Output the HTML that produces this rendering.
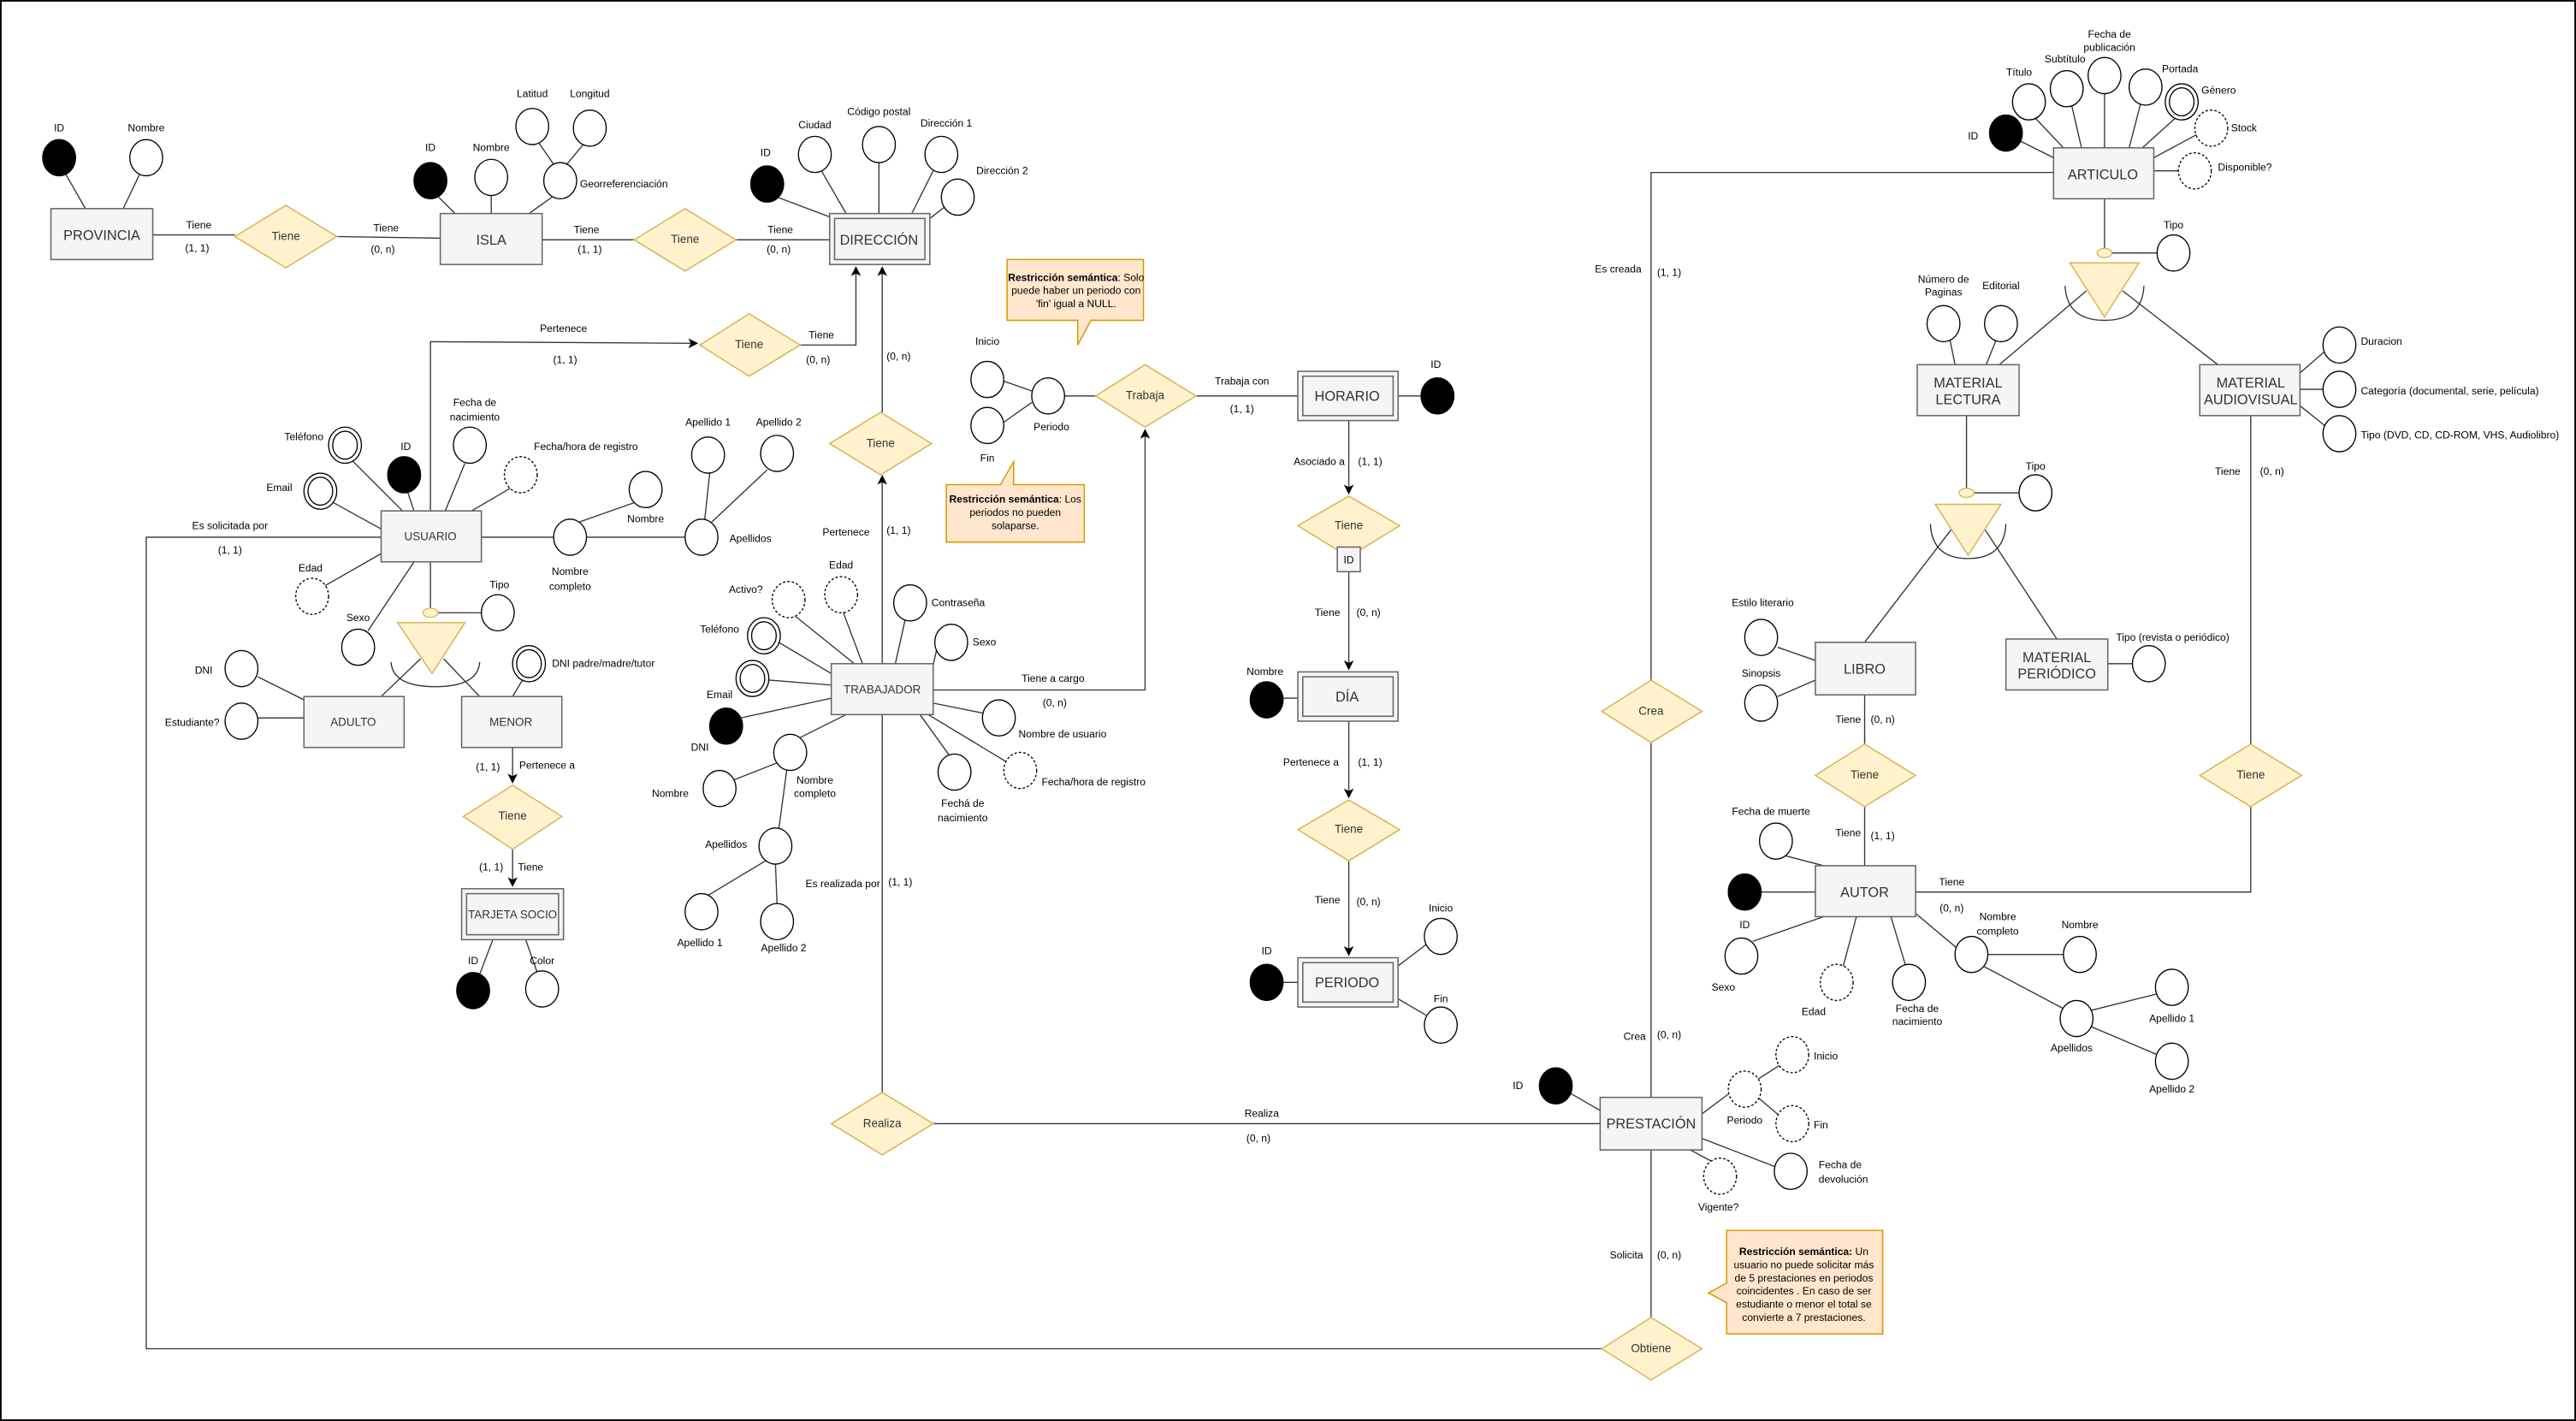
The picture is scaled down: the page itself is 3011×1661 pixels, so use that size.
<!DOCTYPE html>
<html><head><meta charset="utf-8"><style>
html,body{margin:0;padding:0;background:#fff}
svg{display:block}
text{font-family:"Liberation Sans",sans-serif;fill:#000}
.l{font-size:6.3px;text-anchor:middle}
.ls{font-size:6.3px;text-anchor:start}
.en{font-size:8.5px;text-anchor:middle;fill:#333}
.ens{font-size:7px;text-anchor:middle;fill:#333}
.rl{font-size:7px;text-anchor:middle;fill:#333}
.e{fill:#f5f5f5;stroke:#666;stroke-width:0.8}
.r{fill:#fff2cc;stroke:#d6b656;stroke-width:0.8}
.a{fill:#fff;stroke:#000;stroke-width:0.7}
.k{fill:#000;stroke:#000;stroke-width:0.7}
.d{fill:#fff;stroke:#000;stroke-width:0.7;stroke-dasharray:1.5,1.2}
.ln{stroke:#333;stroke-width:0.7;fill:none}
.nt{fill:#ffe6cc;stroke:#d79b00;stroke-width:0.8}
.tri{fill:#fff2cc;stroke:#d6b656;stroke-width:0.8}
</style></head><body>
<svg width="3011" height="1661" viewBox="0 0 1568 865" preserveAspectRatio="none" xmlns="http://www.w3.org/2000/svg">
<defs><marker id="ar" markerWidth="6" markerHeight="6" refX="5" refY="3" orient="auto" markerUnits="userSpaceOnUse"><path d="M0,0 L6,3 L0,6 L1.5,3 z" fill="#000"/></marker></defs>
<rect x="0.5" y="0.5" width="1567" height="864" fill="none" stroke="#000" stroke-width="1"/>

<g class="ln">
<line x1="93" y1="143" x2="143" y2="143"/><line x1="205" y1="144" x2="268" y2="145"/>
<line x1="40" y1="106" x2="52" y2="127"/><line x1="85" y1="106" x2="75" y2="127"/>
<line x1="330" y1="146" x2="386" y2="146"/><line x1="448" y1="146" x2="505" y2="146"/>
<line x1="267" y1="120" x2="277" y2="130"/><line x1="299" y1="119" x2="299" y2="130"/><line x1="336" y1="120" x2="322" y2="130"/>
<line x1="328" y1="87" x2="337" y2="100"/><line x1="355" y1="88" x2="345" y2="100"/>
<line x1="473" y1="120" x2="505" y2="132"/><line x1="500" y1="104" x2="515" y2="130"/><line x1="535" y1="99" x2="535" y2="130"/><line x1="568" y1="104" x2="555" y2="130"/><line x1="575" y1="126" x2="566" y2="133"/>
<polyline points="262,311 262,208 424,209" marker-end="url(#ar)"/>
<polyline points="487,210 521,210 521,163" marker-end="url(#ar)"/>
<line x1="537" y1="251" x2="537" y2="163" marker-end="url(#ar)"/>
<line x1="537" y1="404" x2="537" y2="290" marker-end="url(#ar)"/>
<line x1="214" y1="280" x2="245" y2="311"/><line x1="203" y1="306" x2="232" y2="322"/><line x1="248" y1="299" x2="252" y2="311"/>
<line x1="283" y1="282" x2="271" y2="311"/><line x1="311" y1="297" x2="287" y2="311"/>
<line x1="293" y1="327" x2="337" y2="327"/><line x1="357" y1="327" x2="417" y2="327"/>
<line x1="352" y1="318" x2="386" y2="306"/><line x1="429" y1="316" x2="432" y2="288"/><line x1="433" y1="318" x2="467" y2="286"/>
<line x1="197" y1="357" x2="232" y2="337"/><line x1="224" y1="384" x2="252" y2="342"/>
<line x1="262" y1="342" x2="262" y2="370"/><line x1="266" y1="373" x2="293" y2="373"/>
<line x1="256" y1="401" x2="232" y2="424"/><line x1="270" y1="401" x2="292" y2="424"/>
<path d="M238,403 Q239,418 265,418 Q291,418 292,403"/>
<line x1="157" y1="412" x2="185" y2="426"/><line x1="157" y1="437" x2="185" y2="437"/><line x1="318" y1="414" x2="312" y2="424"/>
<line x1="312" y1="455" x2="312" y2="476" marker-end="url(#ar)"/>
<line x1="312" y1="517" x2="312" y2="539" marker-end="url(#ar)"/>
<line x1="292" y1="593" x2="300" y2="572"/><line x1="327" y1="592" x2="320" y2="572"/>
<polyline points="232,327 89,327 89,821 975,821"/>
<line x1="537" y1="435" x2="537" y2="665"/><line x1="567" y1="684" x2="974" y2="684"/>
<polyline points="568,420 697,420 697,262" marker-end="url(#ar)"/>
<line x1="484" y1="375" x2="520" y2="404"/><line x1="513" y1="372" x2="525" y2="404"/><line x1="551" y1="377" x2="545" y2="404"/>
<line x1="474" y1="391" x2="506" y2="410"/><line x1="570" y1="396" x2="568" y2="405"/><line x1="468" y1="414" x2="506" y2="417"/>
<line x1="451" y1="437" x2="506" y2="425"/><line x1="598" y1="434" x2="568" y2="428"/><line x1="613" y1="464" x2="565" y2="435"/>
<line x1="578" y1="460" x2="560" y2="435"/><line x1="487" y1="449" x2="515" y2="435"/>
<line x1="446" y1="475" x2="474" y2="464"/><line x1="474" y1="505" x2="479" y2="468"/>
<line x1="431" y1="545" x2="466" y2="524"/><line x1="473" y1="551" x2="472" y2="525"/>
<line x1="611" y1="232" x2="628" y2="238"/><line x1="611" y1="257" x2="628" y2="245"/>
<line x1="648" y1="241" x2="667" y2="241"/><line x1="728" y1="241" x2="790" y2="241"/><line x1="851" y1="241" x2="865" y2="241"/>
<line x1="821" y1="256" x2="821" y2="300" marker-end="url(#ar)"/>
<line x1="821" y1="348" x2="821" y2="407" marker-end="url(#ar)"/>
<line x1="781" y1="425" x2="790" y2="425"/>
<line x1="821" y1="439" x2="821" y2="485" marker-end="url(#ar)"/>
<line x1="821" y1="524" x2="821" y2="581" marker-end="url(#ar)"/>
<line x1="781" y1="598" x2="790" y2="598"/><line x1="851" y1="588" x2="868" y2="575"/><line x1="851" y1="608" x2="868" y2="618"/>
<polyline points="1250,105 1005,105 1005,414"/><line x1="1005" y1="452" x2="1005" y2="668"/>
<line x1="1005" y1="700" x2="1005" y2="802"/>
<line x1="1230" y1="86" x2="1250" y2="96"/><line x1="1239" y1="72" x2="1256" y2="90"/><line x1="1261" y1="64" x2="1267" y2="90"/>
<line x1="1281" y1="56" x2="1281" y2="90"/><line x1="1303" y1="63" x2="1296" y2="90"/><line x1="1324" y1="72" x2="1304" y2="90"/>
<line x1="1337" y1="82" x2="1311" y2="96"/><line x1="1311" y1="104" x2="1326" y2="104"/>
<line x1="1281" y1="121" x2="1281" y2="151"/><line x1="1285" y1="154" x2="1313" y2="154"/>
<path d="M1257,174 Q1258,195 1281,195 Q1304,195 1305,174"/>
<line x1="1270" y1="177" x2="1217" y2="222"/><line x1="1292" y1="177" x2="1350" y2="222"/>
<line x1="1187" y1="207" x2="1190" y2="222"/><line x1="1215" y1="207" x2="1209" y2="222"/>
<line x1="1400" y1="227" x2="1415" y2="214"/><line x1="1400" y1="237" x2="1414" y2="237"/><line x1="1400" y1="247" x2="1415" y2="259"/>
<line x1="1197" y1="253" x2="1197" y2="297"/><line x1="1201" y1="300" x2="1229" y2="300"/>
<path d="M1175,319 Q1176,340 1198,340 Q1220,340 1221,319"/>
<line x1="1188" y1="322" x2="1135" y2="391"/><line x1="1208" y1="322" x2="1252" y2="389"/>
<line x1="1082" y1="394" x2="1105" y2="402"/><line x1="1082" y1="424" x2="1105" y2="414"/><line x1="1283" y1="404" x2="1298" y2="404"/>
<line x1="1135" y1="423" x2="1135" y2="453"/><line x1="1135" y1="491" x2="1135" y2="527"/>
<line x1="1370" y1="253" x2="1370" y2="453"/><polyline points="1370,491 1370,543 1166,543"/>
<line x1="1087" y1="521" x2="1110" y2="527"/><line x1="1072" y1="543" x2="1105" y2="543"/><line x1="1067" y1="573" x2="1110" y2="558"/>
<line x1="1122" y1="588" x2="1130" y2="558"/><line x1="1160" y1="588" x2="1151" y2="558"/><line x1="1191" y1="577" x2="1166" y2="556"/>
<line x1="1210" y1="581" x2="1256" y2="581"/><line x1="1207" y1="588" x2="1256" y2="614"/>
<line x1="1273" y1="615" x2="1313" y2="605"/><line x1="1273" y1="625" x2="1313" y2="642"/>
<line x1="955" y1="665" x2="974" y2="676"/><line x1="1036" y1="678" x2="1052" y2="666"/>
<line x1="1070" y1="657" x2="1084" y2="648"/><line x1="1070" y1="668" x2="1083" y2="679"/>
<line x1="1036" y1="693" x2="1080" y2="710"/><line x1="1029" y1="700" x2="1042" y2="707"/>
</g>

<rect class="e" x="31" y="127" width="62" height="31"/><text class="en" x="62" y="146">PROVINCIA</text>
<rect class="e" x="268" y="130" width="62" height="31"/><text class="en" x="299" y="149">ISLA</text>
<rect class="e" x="505" y="130" width="61" height="31"/><rect class="e" x="508" y="133" width="55" height="25"/><text class="en" x="535" y="149">DIRECCIÓN</text>
<rect class="e" x="232" y="311" width="61" height="31"/><text class="ens" x="262" y="329">USUARIO</text>
<rect class="e" x="185" y="424" width="61" height="31"/><text class="ens" x="215" y="442">ADULTO</text>
<rect class="e" x="281" y="424" width="61" height="31"/><text class="ens" x="311" y="442">MENOR</text>
<rect class="e" x="281" y="541" width="62" height="31"/><rect class="e" x="284" y="544" width="56" height="25"/><text class="ens" x="312" y="559">TARJETA SOCIO</text>
<rect class="e" x="506" y="404" width="62" height="31"/><text class="ens" x="537" y="422">TRABAJADOR</text>
<rect class="e" x="790" y="226" width="61" height="30"/><rect class="e" x="793" y="229" width="55" height="24"/><text class="en" x="820" y="244">HORARIO</text>
<rect class="e" x="790" y="409" width="61" height="30"/><rect class="e" x="793" y="412" width="55" height="24"/><text class="en" x="820" y="427">DÍA</text>
<rect class="e" x="790" y="583" width="61" height="30"/><rect class="e" x="793" y="586" width="55" height="24"/><text class="en" x="820" y="601">PERIODO</text>
<rect class="e" x="1250" y="90" width="61" height="31"/><text class="en" x="1280" y="109">ARTICULO</text>
<rect class="e" x="1167" y="222" width="62" height="31"/><text class="en" x="1198" y="236">MATERIAL</text><text class="en" x="1198" y="246">LECTURA</text>
<rect class="e" x="1339" y="222" width="61" height="31"/><text class="en" x="1370" y="236">MATERIAL</text><text class="en" x="1370" y="246">AUDIOVISUAL</text>
<rect class="e" x="1105" y="391" width="61" height="32"/><text class="en" x="1135" y="410">LIBRO</text>
<rect class="e" x="1221" y="389" width="62" height="31"/><text class="en" x="1252" y="403">MATERIAL</text><text class="en" x="1252" y="413">PERIÓDICO</text>
<rect class="e" x="1105" y="527" width="61" height="31"/><text class="en" x="1135" y="546">AUTOR</text>
<rect class="e" x="974" y="668" width="62" height="32"/><text class="en" x="1005" y="687">PRESTACIÓN</text>

<polygon class="r" points="143,144 174,125 205,144 174,163"/><text class="rl" x="174" y="146">Tiene</text>
<polygon class="r" points="386,146 417,127 448,146 417,165"/><text class="rl" x="417" y="148">Tiene</text>
<polygon class="r" points="426,210 456,191 487,210 456,229"/><text class="rl" x="456" y="212">Tiene</text>
<polygon class="r" points="505,270 536,251 567,270 536,289"/><text class="rl" x="536" y="272">Tiene</text>
<polygon class="r" points="282,497 312,478 342,497 312,517"/><text class="rl" x="312" y="499">Tiene</text>
<polygon class="r" points="667,241 697,222 728,241 697,260"/><text class="rl" x="697" y="243">Trabaja</text>
<polygon class="r" points="790,320 821,302 852,320 821,339"/><text class="rl" x="821" y="322">Tiene</text>
<rect class="e" x="814" y="333" width="14" height="15"/><text class="l" x="821" y="343">ID</text>
<polygon class="r" points="790,505 821,487 852,505 821,524"/><text class="rl" x="821" y="507">Tiene</text>
<polygon class="r" points="506,684 537,665 568,684 537,703"/><text class="rl" x="537" y="686">Realiza</text>
<polygon class="r" points="975,433 1005,414 1036,433 1005,452"/><text class="rl" x="1005" y="435">Crea</text>
<polygon class="r" points="975,821 1005,802 1036,821 1005,840"/><text class="rl" x="1005" y="823">Obtiene</text>
<polygon class="r" points="1105,472 1135,453 1166,472 1135,491"/><text class="rl" x="1135" y="474">Tiene</text>
<polygon class="r" points="1339,472 1370,453 1401,472 1370,491"/><text class="rl" x="1370" y="474">Tiene</text>

<polygon class="tri" points="242,379 283,379 263,410"/><ellipse cx="262" cy="373" rx="4.5" ry="2.8" fill="#fff2cc" stroke="#d6b656" stroke-width="0.7"/>
<polygon class="tri" points="1260,160 1302,160 1281,193"/><ellipse cx="1281" cy="154" rx="4.5" ry="2.8" fill="#fff2cc" stroke="#d6b656" stroke-width="0.7"/>
<polygon class="tri" points="1178,307 1218,307 1198,338"/><ellipse cx="1197" cy="300" rx="4.5" ry="2.8" fill="#fff2cc" stroke="#d6b656" stroke-width="0.7"/>

<ellipse class="k" cx="36" cy="96" rx="10" ry="11"/><text class="l" x="36" y="80">ID</text>
<ellipse class="a" cx="89" cy="96" rx="10" ry="11"/><text class="l" x="89" y="80">Nombre</text>
<ellipse class="k" cx="262" cy="110" rx="10" ry="11"/><text class="l" x="262" y="92">ID</text>
<ellipse class="a" cx="299" cy="108" rx="10" ry="11"/><text class="l" x="299" y="92">Nombre</text>
<ellipse class="a" cx="341" cy="110" rx="10" ry="11"/><text class="ls" x="353" y="114">Georreferenciación</text>
<ellipse class="a" cx="324" cy="77" rx="10" ry="11"/><text class="l" x="324" y="59">Latitud</text>
<ellipse class="a" cx="359" cy="78" rx="10" ry="11"/><text class="l" x="359" y="59">Longitud</text>
<ellipse class="k" cx="467" cy="112" rx="10" ry="11"/><text class="l" x="466" y="95">ID</text>
<ellipse class="a" cx="496" cy="94" rx="10" ry="11"/><text class="l" x="496" y="78">Ciudad</text>
<ellipse class="a" cx="535" cy="88" rx="10" ry="11"/><text class="l" x="535" y="70">Código postal</text>
<ellipse class="a" cx="573" cy="94" rx="10" ry="11"/><text class="l" x="576" y="77">Dirección 1</text>
<ellipse class="a" cx="583" cy="120" rx="10" ry="11"/><text class="l" x="610" y="106">Dirección 2</text>
<ellipse class="a" cx="210" cy="271" rx="10" ry="11"/><ellipse class="a" cx="210" cy="271" rx="7.5" ry="8.5"/><text class="l" x="185" y="268">Teléfono</text>
<ellipse class="a" cx="195" cy="299" rx="10" ry="11"/><ellipse class="a" cx="195" cy="299" rx="7.5" ry="8.5"/><text class="l" x="170" y="299">Email</text>
<ellipse class="k" cx="246" cy="289" rx="10" ry="11"/><text class="l" x="247" y="274">ID</text>
<ellipse class="a" cx="286" cy="271" rx="10" ry="11"/><text class="l" x="289" y="247">Fecha de</text><text class="l" x="289" y="256">nacimiento</text>
<ellipse class="d" cx="317" cy="289" rx="10" ry="11"/><text class="ls" x="325" y="274">Fecha/hora de registro</text>
<ellipse class="a" cx="347" cy="327" rx="10" ry="11"/><text class="l" x="347" y="350">Nombre</text><text class="l" x="347" y="359">completo</text>
<ellipse class="a" cx="393" cy="298" rx="10" ry="11"/><text class="l" x="393" y="318">Nombre</text>
<ellipse class="a" cx="427" cy="327" rx="10" ry="11"/><text class="ls" x="444" y="330">Apellidos</text>
<ellipse class="a" cx="431" cy="277" rx="10" ry="11"/><text class="l" x="431" y="259">Apellido 1</text>
<ellipse class="a" cx="473" cy="276" rx="10" ry="11"/><text class="l" x="474" y="259">Apellido 2</text>
<ellipse class="d" cx="190" cy="363" rx="10" ry="11"/><text class="l" x="189" y="348">Edad</text>
<ellipse class="a" cx="218" cy="394" rx="10" ry="11"/><text class="l" x="218" y="378">Sexo</text>
<ellipse class="a" cx="303" cy="373" rx="10" ry="11"/><text class="l" x="304" y="358">Tipo</text>
<ellipse class="a" cx="147" cy="407" rx="10" ry="11"/><text class="l" x="124" y="410">DNI</text>
<ellipse class="a" cx="147" cy="439" rx="10" ry="11"/><text class="l" x="117" y="442">Estudiante?</text>
<ellipse class="a" cx="322" cy="404" rx="10" ry="11"/><ellipse class="a" cx="322" cy="404" rx="7.5" ry="8.5"/><text class="ls" x="336" y="406">DNI padre/madre/tutor</text>
<ellipse class="k" cx="288" cy="603" rx="10" ry="11"/><text class="l" x="288" y="587">ID</text>
<ellipse class="a" cx="330" cy="602" rx="10" ry="11"/><text class="l" x="330" y="587">Color</text>
<ellipse class="d" cx="480" cy="365" rx="10" ry="11"/><text class="l" x="454" y="361">Activo?</text>
<ellipse class="d" cx="512" cy="362" rx="10" ry="11"/><text class="l" x="512" y="346">Edad</text>
<ellipse class="a" cx="554" cy="367" rx="10" ry="11"/><text class="ls" x="567" y="369">Contraseña</text>
<ellipse class="a" cx="465" cy="387" rx="10" ry="11"/><ellipse class="a" cx="465" cy="387" rx="7.5" ry="8.5"/><text class="l" x="438" y="385">Teléfono</text>
<ellipse class="a" cx="579" cy="391" rx="10" ry="11"/><text class="ls" x="592" y="393">Sexo</text>
<ellipse class="a" cx="458" cy="413" rx="10" ry="11"/><ellipse class="a" cx="458" cy="413" rx="7.5" ry="8.5"/><text class="l" x="438" y="425">Email</text>
<ellipse class="k" cx="442" cy="442" rx="10" ry="11"/><text class="l" x="426" y="457">DNI</text>
<ellipse class="a" cx="608" cy="437" rx="10" ry="11"/><text class="ls" x="620" y="449">Nombre de usuario</text>
<ellipse class="d" cx="621" cy="469" rx="10" ry="11"/><text class="ls" x="634" y="478">Fecha/hora de registro</text>
<ellipse class="a" cx="581" cy="470" rx="10" ry="11"/><text class="l" x="586" y="491">Fechá de</text><text class="l" x="586" y="500">nacimiento</text>
<ellipse class="a" cx="481" cy="458" rx="10" ry="11"/><text class="l" x="496" y="477">Nombre</text><text class="l" x="496" y="485">completo</text>
<ellipse class="a" cx="438" cy="480" rx="10" ry="11"/><text class="l" x="408" y="485">Nombre</text>
<ellipse class="a" cx="472" cy="515" rx="10" ry="11"/><text class="l" x="442" y="516">Apellidos</text>
<ellipse class="a" cx="427" cy="555" rx="10" ry="11"/><text class="l" x="426" y="576">Apellido 1</text>
<ellipse class="a" cx="473" cy="561" rx="10" ry="11"/><text class="l" x="477" y="579">Apellido 2</text>
<ellipse class="a" cx="638" cy="241" rx="10" ry="11"/><text class="l" x="640" y="262">Periodo</text>
<ellipse class="a" cx="601" cy="231" rx="10" ry="11"/><text class="l" x="601" y="210">Inicio</text>
<ellipse class="a" cx="601" cy="259" rx="10" ry="11"/><text class="l" x="601" y="281">Fin</text>
<ellipse class="k" cx="875" cy="241" rx="10" ry="11"/><text class="l" x="874" y="224">ID</text>
<ellipse class="k" cx="771" cy="426" rx="10" ry="11"/><text class="l" x="770" y="411">Nombre</text>
<ellipse class="k" cx="771" cy="598" rx="10" ry="11"/><text class="l" x="771" y="581">ID</text>
<ellipse class="a" cx="877" cy="570" rx="10" ry="11"/><text class="l" x="877" y="555">Inicio</text>
<ellipse class="a" cx="877" cy="624" rx="10" ry="11"/><text class="l" x="877" y="610">Fin</text>
<ellipse class="k" cx="1221" cy="81" rx="10" ry="11"/><text class="l" x="1201" y="85">ID</text>
<ellipse class="a" cx="1235" cy="62" rx="10" ry="11"/><text class="l" x="1229" y="46">Título</text>
<ellipse class="a" cx="1258" cy="54" rx="10" ry="11"/><text class="l" x="1257" y="38">Subtítulo</text>
<ellipse class="a" cx="1281" cy="46" rx="10" ry="11"/><text class="l" x="1284" y="23">Fecha de</text><text class="l" x="1284" y="31">publicación</text>
<ellipse class="a" cx="1306" cy="53" rx="10" ry="11"/><text class="l" x="1327" y="44">Portada</text>
<ellipse class="a" cx="1328" cy="62" rx="10" ry="11"/><ellipse class="a" cx="1328" cy="62" rx="7.5" ry="8.5"/><text class="ls" x="1340" y="57">Género</text>
<ellipse class="d" cx="1346" cy="78" rx="10" ry="11"/><text class="ls" x="1358" y="80">Stock</text>
<ellipse class="d" cx="1336" cy="104" rx="10" ry="11"/><text class="ls" x="1350" y="104">Disponible?</text>
<ellipse class="a" cx="1323" cy="154" rx="10" ry="11"/><text class="l" x="1323" y="139">Tipo</text>
<ellipse class="a" cx="1183" cy="197" rx="10" ry="11"/><text class="l" x="1183" y="172">Número de</text><text class="l" x="1183" y="180">Paginas</text>
<ellipse class="a" cx="1218" cy="197" rx="10" ry="11"/><text class="l" x="1218" y="176">Editorial</text>
<ellipse class="a" cx="1424" cy="210" rx="10" ry="11"/><text class="ls" x="1437" y="210">Duracion</text>
<ellipse class="a" cx="1424" cy="237" rx="10" ry="11"/><text class="ls" x="1437" y="240">Categoría (documental, serie, película)</text>
<ellipse class="a" cx="1424" cy="264" rx="10" ry="11"/><text class="ls" x="1437" y="267">Tipo (DVD, CD, CD-ROM, VHS, Audiolibro)</text>
<ellipse class="a" cx="1239" cy="300" rx="10" ry="11"/><text class="l" x="1239" y="286">Tipo</text>
<ellipse class="a" cx="1072" cy="388" rx="10" ry="11"/><text class="l" x="1073" y="369">Estilo literario</text>
<ellipse class="a" cx="1072" cy="428" rx="10" ry="11"/><text class="l" x="1072" y="412">Sinopsis</text>
<ellipse class="a" cx="1308" cy="404" rx="10" ry="11"/><text class="ls" x="1288" y="390">Tipo (revista o periódico)</text>
<ellipse class="a" cx="1081" cy="512" rx="10" ry="11"/><text class="l" x="1078" y="496">Fecha de muerte</text>
<ellipse class="k" cx="1062" cy="543" rx="10" ry="11"/><text class="l" x="1062" y="565">ID</text>
<ellipse class="a" cx="1060" cy="582" rx="10" ry="11"/><text class="l" x="1049" y="603">Sexo</text>
<ellipse class="d" cx="1118" cy="598" rx="10" ry="11"/><text class="l" x="1104" y="618">Edad</text>
<ellipse class="a" cx="1162" cy="598" rx="10" ry="11"/><text class="l" x="1167" y="616">Fecha de</text><text class="l" x="1167" y="624">nacimiento</text>
<ellipse class="a" cx="1200" cy="581" rx="10" ry="11"/><text class="l" x="1216" y="560">Nombre</text><text class="l" x="1216" y="569">completo</text>
<ellipse class="a" cx="1266" cy="581" rx="10" ry="11"/><text class="l" x="1266" y="565">Nombre</text>
<ellipse class="a" cx="1264" cy="620" rx="10" ry="11"/><text class="l" x="1261" y="640">Apellidos</text>
<ellipse class="a" cx="1322" cy="601" rx="10" ry="11"/><text class="l" x="1322" y="622">Apellido 1</text>
<ellipse class="a" cx="1322" cy="646" rx="10" ry="11"/><text class="l" x="1322" y="665">Apellido 2</text>
<ellipse class="k" cx="947" cy="661" rx="10" ry="11"/><text class="l" x="924" y="663">ID</text>
<ellipse class="d" cx="1062" cy="663" rx="10" ry="11"/><text class="l" x="1062" y="684">Periodo</text>
<ellipse class="d" cx="1091" cy="642" rx="10" ry="11"/><text class="ls" x="1104" y="645">Inicio</text>
<ellipse class="d" cx="1091" cy="684" rx="10" ry="11"/><text class="ls" x="1104" y="687">Fin</text>
<ellipse class="a" cx="1090" cy="713" rx="10" ry="11"/><text class="ls" x="1107" y="711">Fecha de</text><text class="ls" x="1107" y="720">devolución</text>
<ellipse class="d" cx="1047" cy="716" rx="10" ry="11"/><text class="l" x="1046" y="737">Vigente?</text>

<text class="l" x="121" y="139">Tiene</text><text class="l" x="120" y="153">(1, 1)</text>
<text class="l" x="235" y="141">Tiene</text><text class="l" x="233" y="154">(0, n)</text>
<text class="l" x="357" y="142">Tiene</text><text class="l" x="359" y="154">(1, 1)</text>
<text class="l" x="475" y="142">Tiene</text><text class="l" x="474" y="154">(0, n)</text>
<text class="l" x="343" y="202">Pertenece</text><text class="l" x="344" y="221">(1, 1)</text>
<text class="l" x="500" y="206">Tiene</text><text class="l" x="498" y="221">(0, n)</text>
<text class="l" x="547" y="219">(0, n)</text>
<text class="l" x="515" y="326">Pertenece</text><text class="l" x="547" y="325">(1, 1)</text>
<text class="l" x="140" y="322">Es solicitada por</text><text class="l" x="140" y="337">(1, 1)</text>
<text class="l" x="297" y="469">(1, 1)</text><text class="l" x="333" y="468">Pertenece a</text>
<text class="l" x="299" y="530">(1, 1)</text><text class="l" x="323" y="530">Tiene</text>
<text class="l" x="756" y="234">Trabaja con</text><text class="l" x="756" y="251">(1, 1)</text>
<text class="l" x="641" y="415">Tiene a cargo</text><text class="l" x="642" y="430">(0, n)</text>
<text class="l" x="803" y="283">Asociado a</text><text class="l" x="834" y="283">(1, 1)</text>
<text class="l" x="808" y="375">Tiene</text><text class="l" x="833" y="375">(0, n)</text>
<text class="l" x="798" y="466">Pertenece a</text><text class="l" x="834" y="466">(1, 1)</text>
<text class="l" x="808" y="550">Tiene</text><text class="l" x="833" y="551">(0, n)</text>
<text class="l" x="513" y="540">Es realizada por</text><text class="l" x="548" y="539">(1, 1)</text>
<text class="l" x="768" y="680">Realiza</text><text class="l" x="766" y="695">(0, n)</text>
<text class="l" x="985" y="166">Es creada</text><text class="l" x="1016" y="168">(1, 1)</text>
<text class="l" x="995" y="633">Crea</text><text class="l" x="1016" y="632">(0, n)</text>
<text class="l" x="990" y="766">Solicita</text><text class="l" x="1016" y="766">(0, n)</text>
<text class="l" x="1125" y="440">Tiene</text><text class="l" x="1146" y="440">(0, n)</text>
<text class="l" x="1125" y="509">Tiene</text><text class="l" x="1146" y="511">(1, 1)</text>
<text class="l" x="1356" y="289">Tiene</text><text class="l" x="1383" y="289">(0, n)</text>
<text class="l" x="1188" y="539">Tiene</text><text class="l" x="1188" y="555">(0, n)</text>

<path class="nt" d="M613,158 H696 V195 H664 L656,210 L656,195 H613 Z"/>
<text class="l" x="655" y="171"><tspan font-weight="bold">Restricción semántica</tspan>: Solo</text>
<text class="l" x="655" y="179">puede haber un periodo con</text>
<text class="l" x="655" y="187">'fin' igual a NULL.</text>
<path class="nt" d="M576,295 H609 L617,281 L617,295 H660 V330 H576 Z"/>
<text class="l" x="618" y="306"><tspan font-weight="bold">Restricción semántica</tspan>: Los</text>
<text class="l" x="618" y="314">periodos no pueden</text>
<text class="l" x="618" y="322">solaparse.</text>
<path class="nt" d="M1051,749 H1146 V812 H1051 V793 L1040,787 L1051,781 Z"/>
<text class="l" x="1098" y="764"><tspan font-weight="bold">Restricción semántica:</tspan> Un</text>
<text class="l" x="1098" y="772">usuario no puede solicitar más</text>
<text class="l" x="1098" y="780">de 5 prestaciones en periodos</text>
<text class="l" x="1098" y="788">coincidentes . En caso de ser</text>
<text class="l" x="1098" y="796">estudiante o menor el total se</text>
<text class="l" x="1098" y="804">convierte a 7 prestaciones.</text>
</svg>
</body></html>
